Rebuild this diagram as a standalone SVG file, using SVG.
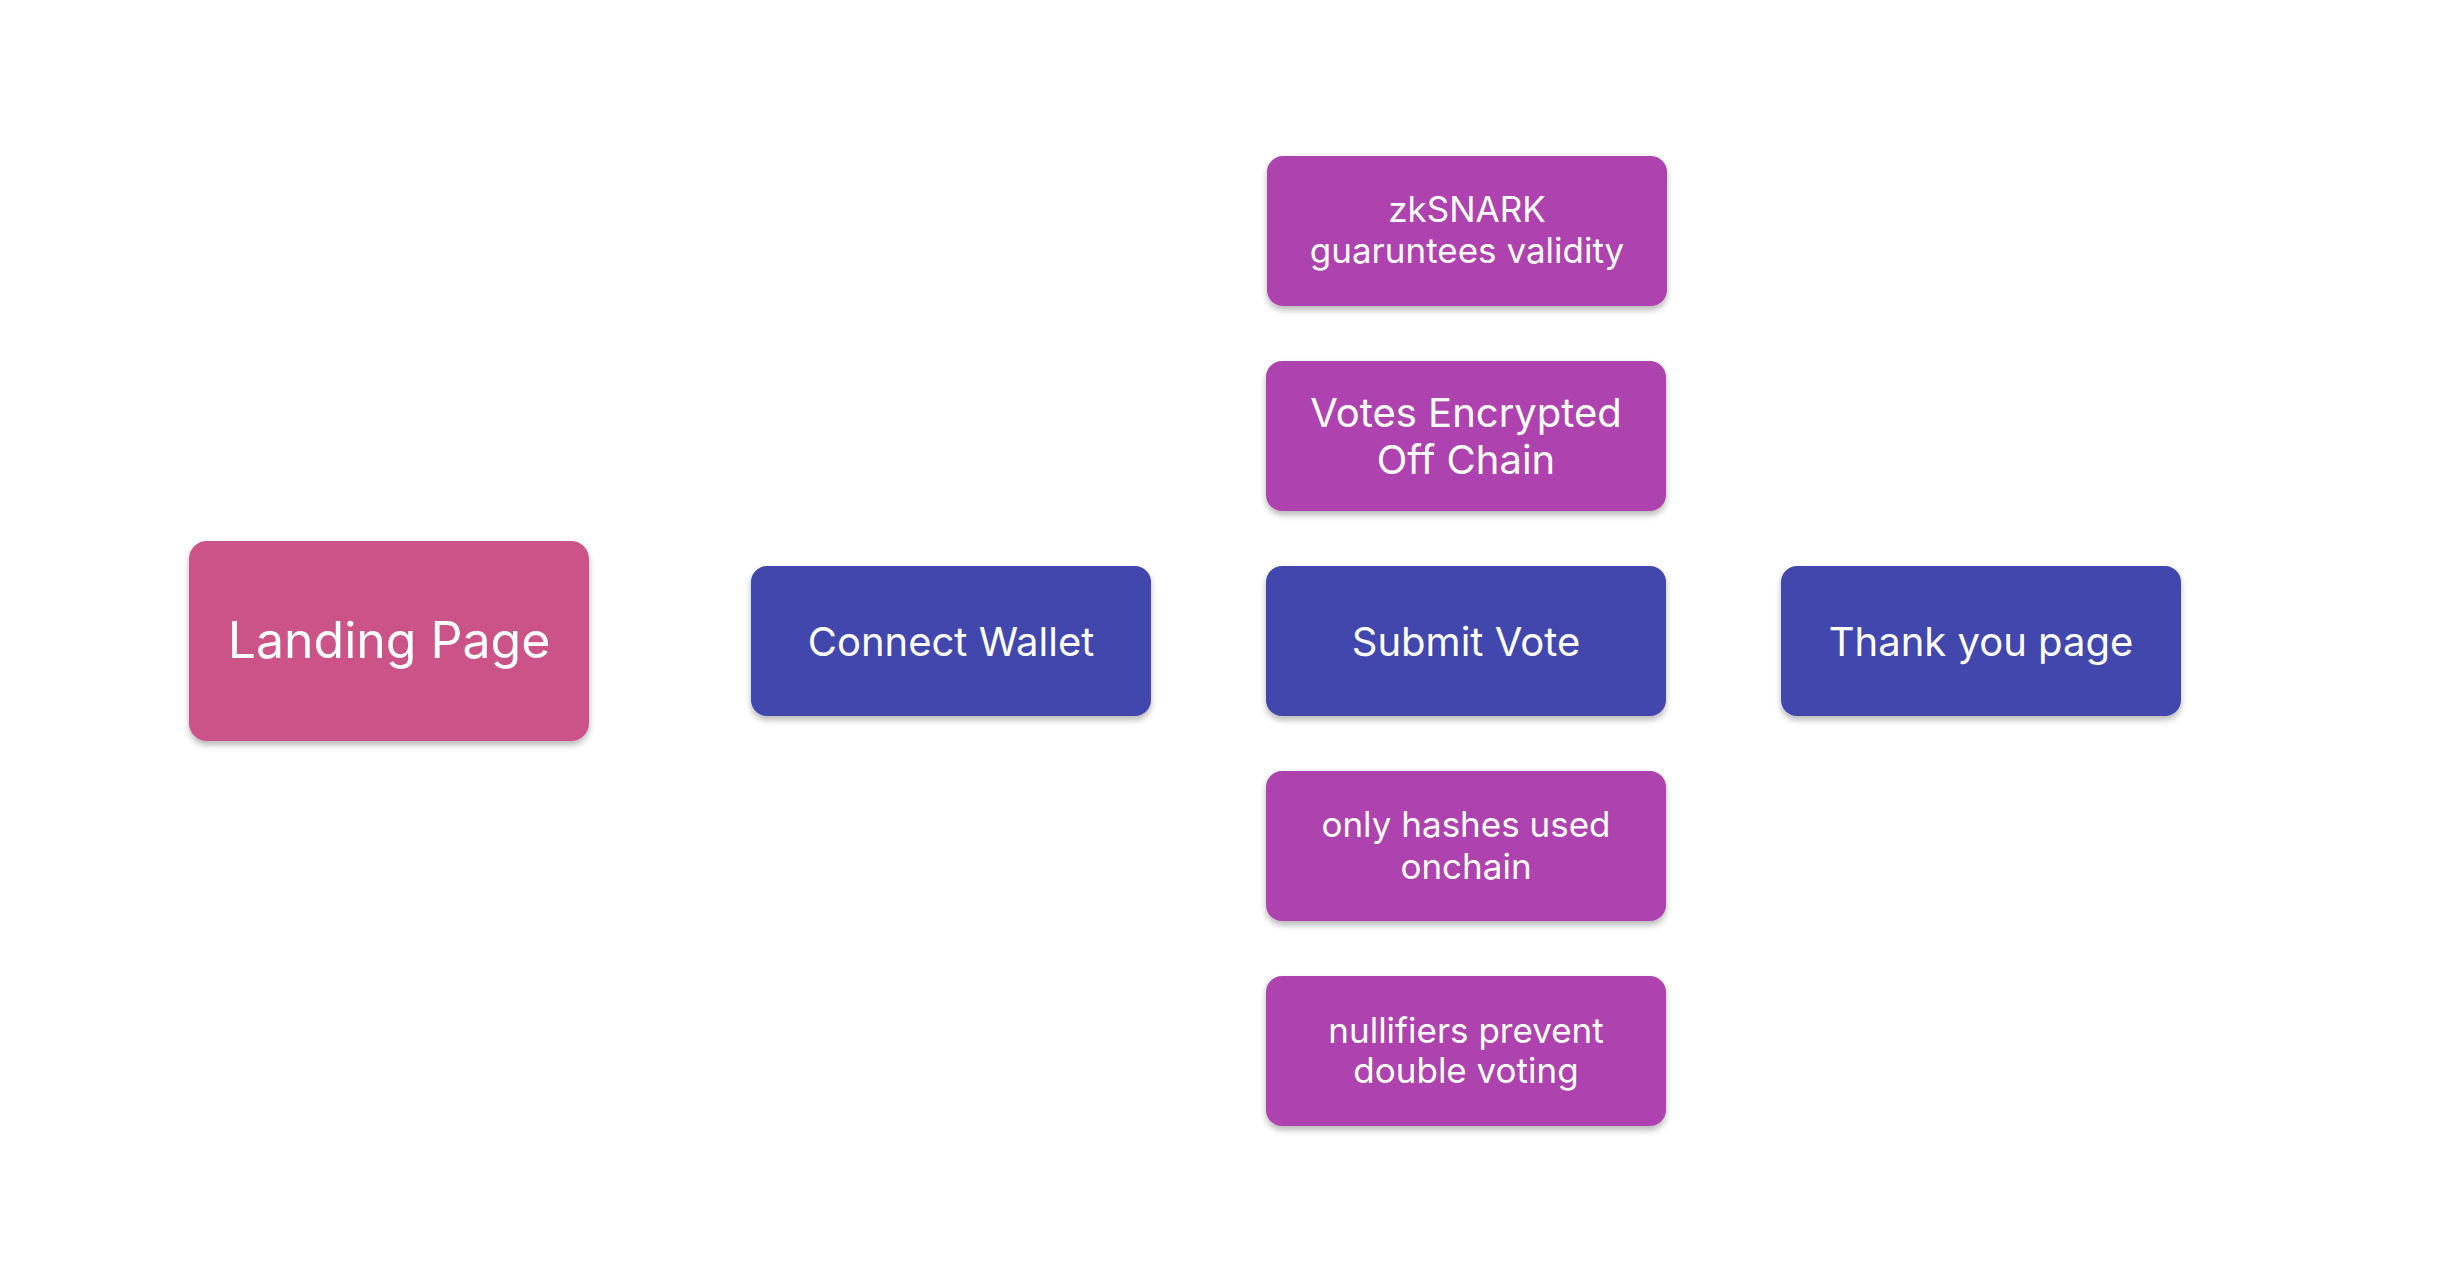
<svg xmlns="http://www.w3.org/2000/svg" width="2451" height="1282" viewBox="0 0 2451 1282">
<defs>
<filter id="sh" x="-10%" y="-10%" width="120%" height="130%">
<feDropShadow dx="0" dy="4" stdDeviation="3" flood-color="#000" flood-opacity="0.28"/>
</filter>
<style>
.n{filter:url(#sh);}
.pink{fill:#cc5288;}
.blue{fill:#4347ae;}
.purp{fill:#ae43ae;}
text{font-family:Inter,"Noto Sans","Liberation Sans",sans-serif;fill:#ffffff;text-anchor:middle;font-weight:370;}
.l{font-size:50px;}
.m{font-size:40px;}
.s{font-size:35px;}
</style>
</defs>
<rect width="2451" height="1282" fill="#ffffff"/>
<g id="connectors"></g>
<g id="landing"><rect class="n pink" x="189" y="541" width="400" height="200" rx="18"/><text class="l" x="389" y="658">Landing Page</text></g>
<g id="connect"><rect class="n blue" x="751" y="566" width="400" height="150" rx="16"/><text class="m" x="951" y="656">Connect Wallet</text></g>
<g id="submit"><rect class="n blue" x="1266" y="566" width="400" height="150" rx="16"/><text class="m" x="1466" y="656">Submit Vote</text></g>
<g id="thankyou"><rect class="n blue" x="1781" y="566" width="400" height="150" rx="16"/><text class="m" x="1981" y="656">Thank you page</text></g>
<g id="zksnark"><rect class="n purp" x="1267" y="156" width="400" height="150" rx="16"/><text class="s" x="1467" y="222">zkSNARK</text><text class="s" x="1467" y="263">guaruntees validity</text></g>
<g id="encrypted"><rect class="n purp" x="1266" y="361" width="400" height="150" rx="16"/><text class="m" x="1466" y="427">Votes Encrypted</text><text class="m" x="1466" y="474">Off Chain</text></g>
<g id="hashes"><rect class="n purp" x="1266" y="771" width="400" height="150" rx="16"/><text class="s" x="1466" y="837">only hashes used</text><text class="s" x="1466" y="879">onchain</text></g>
<g id="nullifiers"><rect class="n purp" x="1266" y="976" width="400" height="150" rx="16"/><text class="s" x="1466" y="1043">nullifiers prevent</text><text class="s" x="1466" y="1083">double voting</text></g>
</svg>
